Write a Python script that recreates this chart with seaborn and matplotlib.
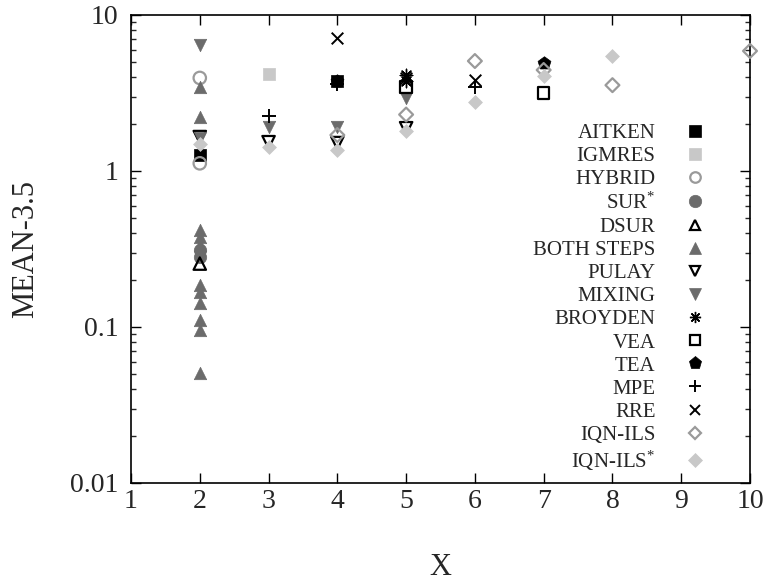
import matplotlib
matplotlib.use("Agg")
import matplotlib.pyplot as plt
from matplotlib.lines import Line2D
from matplotlib.ticker import FixedLocator, FuncFormatter
import seaborn as sns
import pandas as pd

sns.set_style("ticks")
plt.rcParams['font.family'] = ['Liberation Serif', 'DejaVu Serif']
plt.rcParams['mathtext.fontset'] = 'custom'
plt.rcParams['mathtext.rm'] = 'Liberation Serif'
plt.rcParams['mathtext.it'] = 'Liberation Serif:italic'

# ---- data ----
methods = ["AITKEN", "IGMRES", "HYBRID", "SUR*", "DSUR", "BOTH STEPS", "PULAY",
           "MIXING", "BROYDEN", "VEA", "TEA", "MPE", "RRE", "IQN-ILS", "IQN-ILS*"]
labels = ["AITKEN", "IGMRES", "HYBRID", "SUR$^{*}$", "DSUR", "BOTH STEPS", "PULAY",
          "MIXING", "BROYDEN", "VEA", "TEA", "MPE", "RRE", "IQN-ILS", "IQN-ILS$^{*}$"]

aitken_x = [2, 4];            aitken_y = [1.27, 3.75]
igmres_x = [3];               igmres_y = [4.19]
hybrid_x = [2, 2];            hybrid_y = [3.95, 1.12]
sur_x = [2, 2];               sur_y = [0.31, 0.28]
dsur_x = [2];                 dsur_y = [0.255]
both_x = [2] * 11
both_y = [3.45, 2.22, 0.42, 0.38, 0.335, 0.186, 0.168, 0.142, 0.111, 0.096, 0.051]
pulay_x = [2, 3, 4, 5];       pulay_y = [1.65, 1.53, 1.51, 1.88]
mixing_x = [2, 2, 3, 4, 5];   mixing_y = [6.42, 1.62, 1.91, 1.91, 2.93]
broyden_x = [5, 5];           broyden_y = [4.15, 3.75]
vea_x = [5, 7];               vea_y = [3.45, 3.16]
tea_x = [4, 7];               tea_y = [3.8, 4.92]
mpe_x = [3, 4, 6];            mpe_y = [2.25, 3.6, 3.45]
rre_x = [4, 5, 6];            rre_y = [7.1, 3.95, 3.83]
iqn_x = [4, 5, 6, 7, 8, 10];  iqn_y = [1.70, 2.30, 5.07, 4.44, 3.55, 5.88]
iqns_x = [2, 3, 4, 5, 6, 7, 8]
iqns_y = [1.50, 1.43, 1.37, 1.80, 2.77, 4.06, 5.46]

xs = [aitken_x, igmres_x, hybrid_x, sur_x, dsur_x, both_x, pulay_x, mixing_x,
      broyden_x, vea_x, tea_x, mpe_x, rre_x, iqn_x, iqns_x]
ys = [aitken_y, igmres_y, hybrid_y, sur_y, dsur_y, both_y, pulay_y, mixing_y,
      broyden_y, vea_y, tea_y, mpe_y, rre_y, iqn_y, iqns_y]

rows = []
for m, xv, yv in zip(methods, xs, ys):
    for a, b in zip(xv, yv):
        rows.append({"method": m, "X": a, "Y": b})
df = pd.DataFrame(rows)

DARK = "#6b6b6b"
LIGHT = "#c8c8c8"
MID = "#9a9a9a"
# (marker, color, filled)
styles = {
    "AITKEN": ("s", "black", True),
    "IGMRES": ("s", LIGHT, True),
    "HYBRID": ("o", MID, False),
    "SUR*": ("o", DARK, True),
    "DSUR": ("^", "black", False),
    "BOTH STEPS": ("^", DARK, True),
    "PULAY": ("v", "black", False),
    "MIXING": ("v", DARK, True),
    "BROYDEN": ((8, 2, 0), "black", None),
    "VEA": ("s", "black", False),
    "TEA": ("p", "black", True),
    "MPE": ("+", "black", None),
    "RRE": ("x", "black", None),
    "IQN-ILS": ("D", MID, False),
    "IQN-ILS*": ("D", LIGHT, True),
}
sizes = {"s": 70, "o": 80, "^": 80, "v": 80, "p": 95, "+": 90, "x": 70, "D": 50}

fig = plt.figure(figsize=(7.73, 5.81), dpi=100)
ax = fig.add_axes([131 / 773, (581 - 483) / 581, (750 - 131) / 773, (483 - 15) / 581])

handles = []
for m, lab in zip(methods, labels):
    mk, col, filled = styles[m]
    sub = df[df["method"] == m]
    s = sizes.get(mk, 90) if isinstance(mk, str) else 80
    lw_line = 1.0 if not isinstance(mk, str) else 1.4
    kw = dict(data=sub, x="X", y="Y", ax=ax, marker=mk, s=s, legend=False,
              clip_on=False, zorder=3)
    if filled is True:
        sns.scatterplot(color=col, edgecolor=col, linewidth=0.5, **kw)
        h = Line2D([], [], ls="none", marker=mk, markersize=s ** 0.5,
                   markerfacecolor=col, markeredgecolor=col, markeredgewidth=0.5)
    elif filled is False:
        sns.scatterplot(facecolor="none", edgecolor=col, linewidth=1.6, **kw)
        h = Line2D([], [], ls="none", marker=mk, markersize=s ** 0.5 * 0.85,
                   markerfacecolor="none", markeredgecolor=col, markeredgewidth=1.6)
    else:
        sns.scatterplot(color=col, linewidth=lw_line, **kw)
        h = Line2D([], [], ls="none", marker=mk, markersize=s ** 0.5 * 0.9,
                   color=col, markeredgewidth=lw_line)
    handles.append((h, lab))

ax.set_yscale("log")
ax.set_xlim(1, 10)
ax.set_ylim(0.01, 10)
ax.xaxis.set_major_locator(FixedLocator(range(1, 11)))
ax.yaxis.set_major_locator(FixedLocator([0.01, 0.1, 1, 10]))
ax.yaxis.set_major_formatter(FuncFormatter(lambda v, p: "%g" % v))
ax.tick_params(axis="both", which="major", direction="in", length=7, width=1,
               top=True, right=True, labelsize=20, color="black")
ax.tick_params(axis="x", which="major", pad=4)
ax.tick_params(axis="y", which="major", pad=9)
ax.tick_params(axis="y", which="minor", direction="in", length=3.8, width=1,
               right=True, left=True)
ax.tick_params(axis="x", which="minor", bottom=False, top=False)
for sp in ax.spines.values():
    sp.set_visible(True)
    sp.set_linewidth(1.2)
    sp.set_color("black")

ax.set_xlabel("X", fontsize=22)
ax.set_ylabel("MEAN-3.5", fontsize=22)
ax.xaxis.set_label_coords(0.5, -0.15)
ax.yaxis.set_label_coords(-0.147, 0.5)

leg = fig.legend([h for h, _ in handles], [l for _, l in handles],
                 loc="center right", bbox_to_anchor=(716 / 773, (581 - 298) / 581),
                 frameon=False, markerfirst=False, fontsize=15, labelspacing=0.17,
                 handlelength=2.0, handletextpad=0.9, borderpad=0, borderaxespad=0)

fig.savefig("out.png", dpi=100, facecolor="white")
